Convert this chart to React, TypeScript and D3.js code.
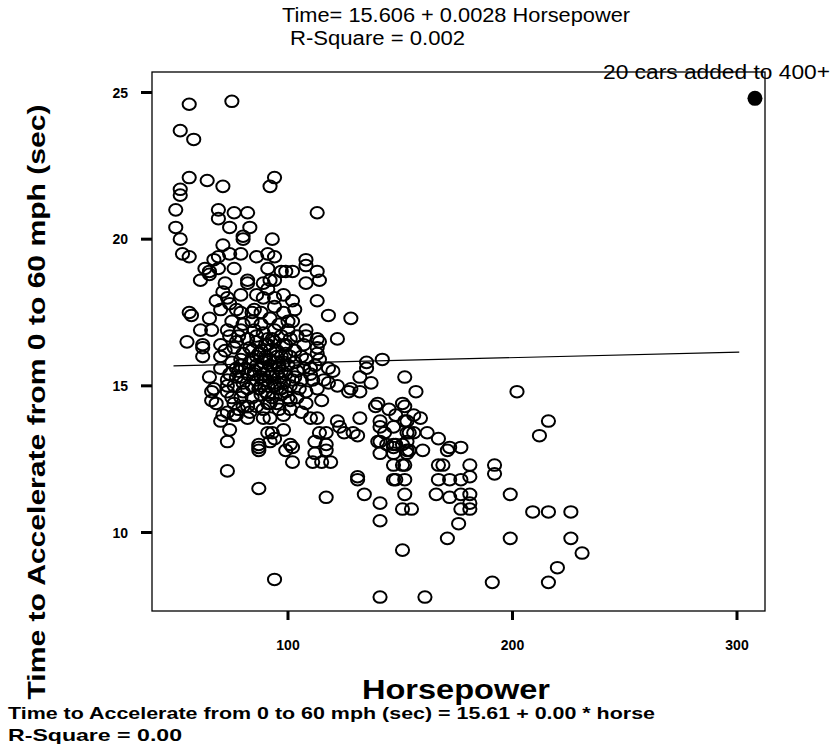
import React from 'react';
import * as d3 from 'd3';

// horsepower, seconds 0-60
const cars: [number, number][] = [
  [56, 24.6], [75, 24.7], [52, 23.7], [58, 23.4], [56, 22.1], [64, 22.0], [71, 21.8], [94, 22.1], [92, 21.8],
  [52, 21.7], [52, 21.5], [50, 21.0], [69, 21.0], [69, 20.7], [76, 20.9], [82, 20.9], [113, 20.9], [50, 20.4],
  [74, 20.4], [83, 20.4], [52, 20.0], [80, 20.0], [93, 20.0], [71, 19.8], [80, 20.1],
  [53, 19.5], [56, 19.4], [69, 19.4], [74, 19.5], [79, 19.5], [86, 19.4], [91, 19.5], [94, 19.4], [108, 19.3], [67, 19.3],
  [63, 19.0], [69, 19.0], [76, 19.0], [91, 19.0], [99, 18.9], [102, 18.9], [108, 19.1], [113, 18.9], [65, 18.9], [97, 18.9],
  [61, 18.6], [65, 18.8], [72, 18.5], [82, 18.5], [89, 18.5], [94, 18.6], [108, 18.5], [114, 18.6], [82, 18.6], [92, 18.6],
  [71, 18.2], [79, 18.1], [91, 18.3], [98, 18.1], [102, 17.9], [113, 17.9], [68, 17.9], [74, 17.8], [89, 18.0], [94, 18.0],
  [73, 18.0], [86, 18.1],
  [56, 17.5], [57, 17.4], [65, 17.3], [79, 17.5], [85, 17.6], [98, 17.5], [103, 17.6], [118, 17.4], [128, 17.3], [70, 17.6],
  [77, 17.6], [84, 17.5], [88, 17.5], [94, 17.7], [102, 17.2],
  [61, 16.9], [66, 16.9], [73, 16.9], [79, 16.9], [85, 16.9], [94, 16.9], [100, 16.9], [108, 16.9], [113, 16.6], [122, 16.6], [108, 16.7],
  [55, 16.5], [62, 16.4], [70, 16.4], [77, 16.5], [83, 16.3], [91, 16.4], [98, 16.4], [107, 16.4], [113, 16.3], [62, 16.3], [114, 16.5], [113, 16.1],
  [62, 16.0], [70, 16.0], [79, 15.9], [86, 16.0], [92, 15.9], [101, 16.0], [108, 15.9], [114, 15.9],
  [70, 15.6], [77, 15.6], [88, 15.6], [96, 15.7], [104, 15.5], [118, 15.6], [135, 15.6], [142, 15.9], [135, 15.8],
  [65, 15.3], [73, 15.2], [79, 15.3], [86, 15.2], [94, 15.1], [102, 15.2], [111, 15.2], [122, 15.0], [132, 15.3], [137, 15.1],
  [152, 15.3], [73, 15.0], [77, 15.3], [120, 15.5], [116, 15.2], [112, 15.7], [118, 15.1],
  [66, 14.8], [73, 14.8], [80, 14.8], [91, 14.7], [99, 14.8], [108, 14.8], [113, 14.9], [127, 14.8], [132, 14.8], [157, 14.8],
  [128, 14.9], [67, 14.9], [82, 14.9],
  [68, 14.4], [76, 14.4], [82, 14.3], [91, 14.4], [95, 14.4], [101, 14.5], [108, 14.4], [115, 14.5], [140, 14.4], [145, 14.2],
  [151, 14.4], [152, 14.3], [66, 14.5], [80, 14.3], [92, 14.4], [139, 14.3],
  [70, 13.8], [77, 14.0], [82, 13.9], [89, 13.9], [98, 14.0], [110, 13.9], [122, 13.8], [132, 13.9], [141, 13.8], [148, 14.0],
  [153, 13.8], [159, 13.9], [152, 13.8], [156, 14.0], [71, 14.0], [76, 14.0], [92, 13.9], [113, 13.9], [123, 13.6], [141, 13.6], [147, 13.6],
  [74, 13.5], [93, 13.4], [98, 13.5], [114, 13.4], [125, 13.4], [131, 13.3], [143, 13.4], [153, 13.4], [162, 13.4], [154, 13.4],
  [167, 13.2], [129, 13.4], [156, 13.4], [91, 13.4], [94, 13.2], [117, 13.4],
  [73, 13.1], [87, 13.0], [92, 13.1], [112, 13.1], [117, 13.0], [141, 13.1], [147, 13.0], [153, 13.1], [101, 13.0], [144, 13.0],
  [148, 13.0], [140, 13.1], [151, 13.0],
  [87, 12.9], [87, 12.8], [102, 12.9], [112, 12.7], [117, 12.8], [111, 12.4], [115, 12.4], [119, 12.4], [102, 12.4], [141, 12.7],
  [147, 12.9], [153, 12.8], [160, 12.8], [154, 12.8], [171, 12.8], [172, 12.9], [177, 12.9], [147, 12.7], [99, 12.8], [153, 12.7],
  [147, 12.3], [152, 12.3], [167, 12.3], [169, 12.3], [181, 12.3], [192, 12.3], [192, 12.0], [151, 12.3],
  [73, 12.1], [131, 11.9], [131, 11.8], [147, 11.8], [152, 11.8], [167, 11.8], [172, 11.8], [177, 11.8], [181, 11.9], [148, 11.8],
  [87, 11.5], [117, 11.2], [134, 11.3], [152, 11.3], [166, 11.3], [172, 11.2], [177, 11.3], [181, 11.3], [199, 11.3], [141, 11.0],
  [151, 10.8], [155, 10.8], [177, 10.8], [181, 10.8], [181, 11.0], [209, 10.7], [216, 10.7], [226, 10.7], [141, 10.4], [176, 10.3],
  [171, 9.8], [199, 9.8], [226, 9.8], [231, 9.3], [151, 9.4], [220, 8.8], [191, 8.3], [216, 8.3], [94, 8.4], [141, 7.8], [161, 7.8],
  [202, 14.8], [216, 13.8], [212, 13.3],
  // dense core
  [75, 17.2], [80, 17.1], [84, 17.2], [88, 17.1], [92, 17.3], [96, 17.1], [100, 17.2],
  [74, 16.7], [78, 16.7], [82, 16.6], [86, 16.7], [89, 16.8], [93, 16.6], [97, 16.7], [101, 16.6], [104, 16.7],
  [72, 16.2], [76, 16.3], [80, 16.1], [84, 16.2], [88, 16.2], [90, 16.0], [95, 16.2], [99, 16.1], [103, 16.2], [106, 16.0],
  [75, 15.8], [79, 15.7], [83, 15.8], [86, 15.7], [89, 15.8], [91, 15.5], [94, 15.8], [97, 15.5], [100, 15.7], [103, 15.8],
  [107, 15.6], [110, 15.6],
  [74, 15.4], [78, 15.5], [82, 15.4], [85, 15.4], [88, 15.3], [90, 15.2], [93, 15.4], [96, 15.3], [99, 15.4], [103, 15.3],
  [106, 15.2], [110, 15.4],
  [76, 15.0], [80, 15.1], [84, 15.0], [88, 15.0], [91, 15.0], [95, 14.9], [98, 15.1], [101, 15.0], [105, 14.9],
  [75, 14.6], [79, 14.6], [84, 14.6], [88, 14.7], [93, 14.6], [97, 14.7], [100, 14.6], [104, 14.6],
  [86, 16.5], [90, 16.4], [94, 16.5], [88, 15.6], [92, 15.7], [96, 15.6], [90, 15.9], [95, 16.0],
  [87, 16.1], [92, 16.2], [97, 16.0], [85, 15.5], [89, 15.4], [95, 15.4], [98, 15.8], [92, 15.3],
  [87, 14.9], [90, 14.8], [94, 15.0], [97, 14.9], [81, 15.6], [84, 15.9], [99, 16.4], [91, 16.6],
  [78, 14.2], [86, 14.3], [96, 14.2], [73, 14.1], [83, 14.1], [89, 14.2], [101, 14.2], [106, 14.1],
];

const addedCar: [number, number] = [308, 24.8];
const fitLine: [number, number][] = [[49, 15.68], [301, 16.15]];
const xTicks = [100, 200, 300];
const yTicks = [10, 15, 20, 25];

const W = 832;
const H = 747;
const frame = { left: 152, top: 72, right: 765, bottom: 611 };

const font = '"Liberation Sans", Arial, sans-serif';

export default function App() {
  const x = d3.scaleLinear().domain([100, 200]).range([288, 512.5]);
  const y = d3.scaleLinear().domain([10, 25]).range([532.5, 92.5]);
  const line = d3.line<[number, number]>().x(d => x(d[0])).y(d => y(d[1]));

  return (
    <svg width={W} height={H} style={{ position: 'absolute', left: 0, top: 0, background: '#fff' }}
      fontFamily={font}>
      <rect x={frame.left} y={frame.top} width={frame.right - frame.left} height={frame.bottom - frame.top}
        fill="none" stroke="#000" strokeWidth={1.3} />

      {yTicks.map(t => (
        <g key={'y' + t}>
          <line x1={frame.left - 11} x2={frame.left} y1={y(t)} y2={y(t)} stroke="#000" strokeWidth={3} />
          <text x={128} y={y(t) + 5} textAnchor="end" fontSize={14} fontWeight="bold">{t}</text>
        </g>
      ))}
      {xTicks.map(t => (
        <g key={'x' + t}>
          <line x1={x(t)} x2={x(t)} y1={frame.bottom} y2={frame.bottom + 9} stroke="#000" strokeWidth={3} />
          <text x={x(t)} y={650} textAnchor="middle" fontSize={14} fontWeight="bold">{t}</text>
        </g>
      ))}

      {cars.map((d, i) => (
        <ellipse key={i} cx={x(d[0])} cy={y(d[1])} rx={6.6} ry={5.8} fill="none" stroke="#000" strokeWidth={2} />
      ))}
      <circle cx={x(addedCar[0])} cy={y(addedCar[1])} r={7.5} fill="#000" />

      <path d={line(fitLine) || ''} fill="none" stroke="#000" strokeWidth={1.2} />

      <text x={282} y={22} fontSize={20} textLength={348} lengthAdjust="spacingAndGlyphs">Time= 15.606 + 0.0028 Horsepower</text>
      <text x={290} y={45} fontSize={20} textLength={175} lengthAdjust="spacingAndGlyphs">R-Square = 0.002</text>
      <text x={603} y={79} fontSize={20} textLength={227} lengthAdjust="spacingAndGlyphs">20 cars added to 400+</text>

      <text transform="translate(45,402) rotate(-90)" textAnchor="middle" fontSize={24} fontWeight="bold"
        textLength={595} lengthAdjust="spacingAndGlyphs">Time to Accelerate from 0 to 60 mph (sec)</text>
      <text x={456} y={699} textAnchor="middle" fontSize={27} fontWeight="bold"
        textLength={188} lengthAdjust="spacingAndGlyphs">Horsepower</text>

      <text x={8} y={719} fontSize={17} fontWeight="bold" textLength={647} lengthAdjust="spacingAndGlyphs">
        Time to Accelerate from 0 to 60 mph (sec) = 15.61 + 0.00 * horse
      </text>
      <text x={8} y={741} fontSize={17} fontWeight="bold" textLength={174} lengthAdjust="spacingAndGlyphs">R-Square = 0.00</text>
    </svg>
  );
}
